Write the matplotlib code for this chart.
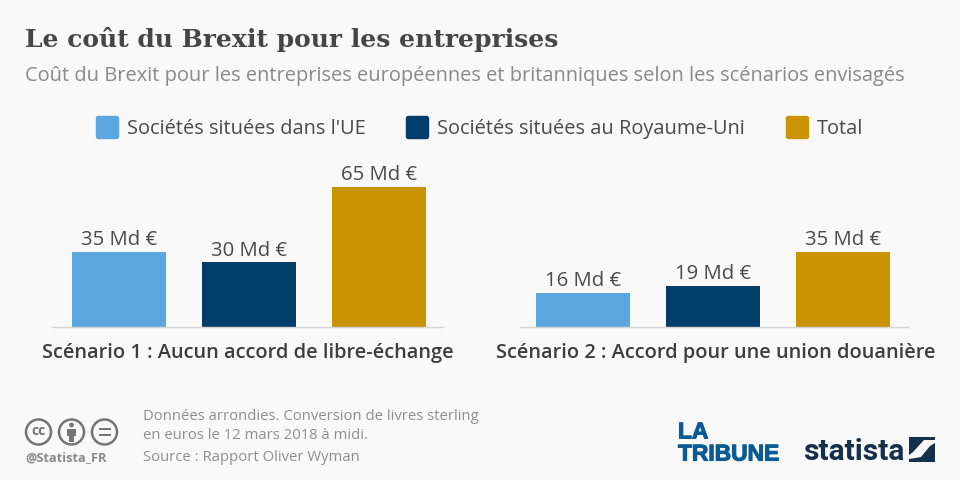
import matplotlib
matplotlib.use("Agg")
import matplotlib.pyplot as plt
import matplotlib.patheffects as pe
from matplotlib.patches import Circle, FancyBboxPatch, Polygon, Rectangle

# Brexit cost per scenario, in billions of euros
series_names = ["Sociétés situées dans l'UE", "Sociétés situées au Royaume-Uni", "Total"]
scenario_names = ["Scénario 1 : Aucun accord de libre-échange",
                  "Scénario 2 : Accord pour une union douanière"]
scenario_1 = [35, 30, 65]
scenario_2 = [16, 19, 35]

colors = ["#5BA7DF", "#003D6B", "#C99400"]
bg = "#F9F9F9"
W, H = 960, 480

plt.rcParams["font.family"] = ["Open Sans", "DejaVu Sans"]
fig = plt.figure(figsize=(W / 100, H / 100), dpi=100, facecolor=bg)


def px_axes(left, right, top, bottom):
    return fig.add_axes([left / W, 1 - bottom / H, (right - left) / W, (bottom - top) / H])


def draw_scenario(values, name, left, right, first_center, label_x):
    ax = px_axes(left, right, 187, 327)
    ax.set_facecolor("none")
    ax.bar(range(3), values, width=94 / 130, color=colors)
    ax.set_xlim((left - first_center) / 130, (right - first_center) / 130)
    ax.set_ylim(0, 65)
    for s in ["top", "left", "right"]:
        ax.spines[s].set_visible(False)
    ax.spines["bottom"].set_color("#D4D4D4")
    ax.spines["bottom"].set_linewidth(1)
    ax.set_yticks([])
    ax.set_xticks([])
    for i, v in enumerate(values):
        ax.annotate(f"{v} Md €", (i, v), xytext=(0, 1.3), textcoords="offset points",
                    ha="center", va="bottom", fontsize=14.6, color="#4A4A4A",
                    annotation_clip=False)
    ax.set_xlabel(name, x=label_x, fontsize=14.45, fontweight="semibold", color="#3E3E3E", labelpad=11.5)


draw_scenario(scenario_1, scenario_names[0], 52, 443, 119, 0.5)
draw_scenario(scenario_2, scenario_names[1], 520, 908, 583, 0.505)

# overlay in pixel coordinates for header, legend and footer
ov = fig.add_axes([0, 0, 1, 1])
ov.set_xlim(0, W)
ov.set_ylim(H, 0)
ov.axis("off")
ov.patch.set_alpha(0)

ov.text(25, 40, "Le coût du Brexit pour les entreprises", family="DejaVu Serif",
        fontweight="bold", fontsize=18.0, color="#464646", va="center")
ov.text(25, 76, "Coût du Brexit pour les entreprises européennes et britanniques selon les scénarios envisagés",
        fontsize=14.42, color="#8A8A8A", va="center")

# legend
legend_x = [96, 406, 786]
for x, name, c in zip(legend_x, series_names, colors):
    ov.add_patch(FancyBboxPatch((x + 0.5, 116.5), 22, 22, boxstyle="round,pad=0,rounding_size=2",
                                fc=c, ec=c, lw=1))
    ov.text(x + 31, 129, name, fontsize=14.4, color="#4A4A4A", va="center")

# licence icons
grey = "#757575"
for cx in [38.5, 71.5, 104.5]:
    ov.add_patch(Circle((cx, 432), 12.5, fc="none", ec=grey, lw=1.8))
ov.text(38.5, 431, "cc", fontsize=10, fontweight="bold", color=grey, ha="center", va="center")
ov.add_patch(Circle((71.5, 425), 2.4, fc=grey, ec="none"))
ov.add_patch(Rectangle((67, 428.5), 9, 7.5, fc=grey, ec="none"))
ov.add_patch(Rectangle((69, 436), 5, 5.5, fc=grey, ec="none"))
ov.add_patch(Rectangle((98.5, 427.5), 12, 2.4, fc=grey, ec="none"))
ov.add_patch(Rectangle((98.5, 433.5), 12, 2.4, fc=grey, ec="none"))
ov.text(25, 458, "@Statista_FR", fontsize=9.2, fontweight="bold", color="#8A8A8A", va="center")

# notes
note_color = "#8F8F8F"
ov.text(143, 416.5, "Données arrondies. Conversion de livres sterling", fontsize=10.75, color=note_color, va="center")
ov.text(143, 435.5, "en euros le 12 mars 2018 à midi.", fontsize=10.75, color=note_color, va="center")
ov.text(143, 457.5, "Source : Rapport Oliver Wyman", fontsize=10.75, color=note_color, va="center")

# logos
blue = "#0B5A94"
ov.text(678, 460.5, "LA\nTRIBUNE", family="Liberation Sans", fontweight="bold", fontsize=16.4, color=blue,
        va="baseline", linespacing=0.95, path_effects=[pe.withStroke(linewidth=0.8, foreground=blue)])
navy = "#14304C"
ov.text(803, 460.5, "statista", family="Roboto", fontweight="bold", fontsize=21.5, color=navy, va="baseline")
ov.add_patch(Polygon([(909, 437), (935, 437), (935, 440), (924, 440), (913, 452), (909, 455)], fc=navy, ec="none"))
ov.add_patch(Polygon([(935, 443), (935, 462), (909, 462), (909, 459), (921, 457), (930, 446)], fc=navy, ec="none"))

fig.savefig("out.png", dpi=100, facecolor=bg)
